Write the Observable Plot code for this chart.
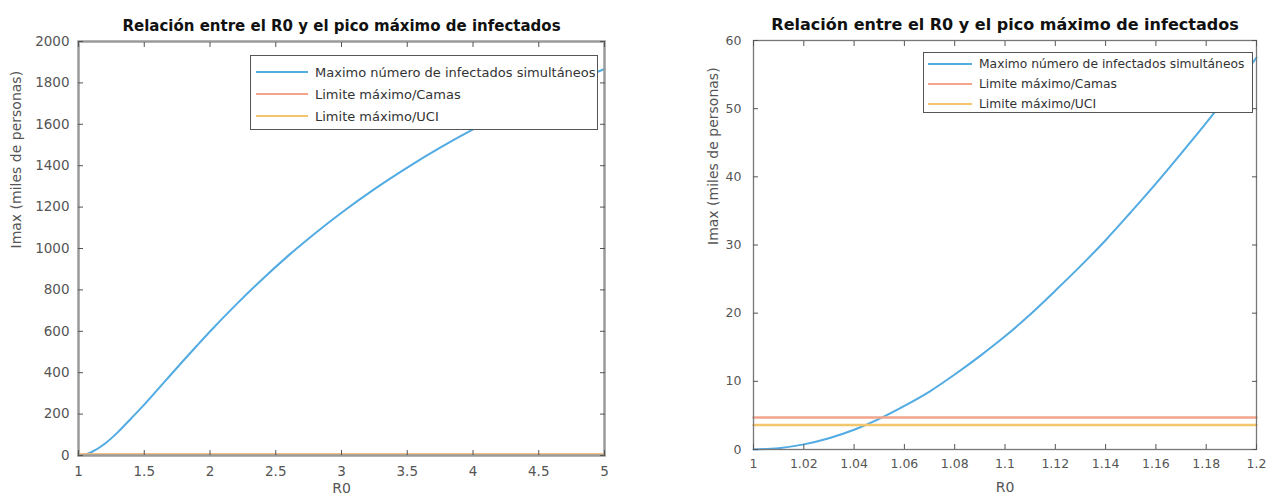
<!DOCTYPE html>
<html><head><meta charset="utf-8">
<script src="https://cdn.jsdelivr.net/npm/d3@7"></script>
<script src="https://cdn.jsdelivr.net/npm/@observablehq/plot@0.6"></script>
<style>
body{margin:0;background:#fff;font-family:"DejaVu Sans",sans-serif;}
#wrap{position:relative;width:1284px;height:503px;overflow:hidden;}
.panel{position:absolute;top:0;}
.legend{position:absolute;box-sizing:border-box;background:#fff;border:1.5px solid #555;color:#333;}
.row{position:absolute;left:0;right:0;display:flex;align-items:center;white-space:nowrap;}
.sw{display:inline-block;height:2px;}
</style></head><body>
<div id="wrap"></div>
<script>
const titleText = "Relación entre el R0 y el pico máximo de infectados";
const xLabel = "R0";
const yLabel = "Imax (miles de personas)";
const seriesNames = ["Maximo número de infectados simultáneos", "Limite máximo/Camas", "Limite máximo/UCI"];
const seriesColors = ["#52abe2", "#f2a48c", "#f3c56c"];

// left panel: wide R0 range
const r0Wide = [1.0, 1.05, 1.1, 1.2, 1.3, 1.4, 1.5, 1.6, 1.7, 1.8, 1.9, 2.0, 2.2, 2.4, 2.6, 2.8, 3.0, 3.25, 3.5, 3.75, 4.0, 4.25, 4.5, 4.75, 5.0];
const imaxWide = [0, 4, 17, 57, 113, 179, 246, 317, 389, 460, 530, 599, 730, 853, 968, 1074, 1173, 1287, 1391, 1487, 1575, 1656, 1732, 1801, 1867];
// right panel: narrow R0 range
const r0Narrow = [1.0, 1.01, 1.02, 1.03, 1.04, 1.05, 1.06, 1.07, 1.08, 1.09, 1.1, 1.11, 1.12, 1.13, 1.14, 1.15, 1.16, 1.17, 1.18, 1.19, 1.2];
const imaxNarrow = [0, 0.2, 0.75, 1.65, 2.9, 4.5, 6.4, 8.5, 11.0, 13.7, 16.6, 19.8, 23.3, 26.9, 30.7, 34.8, 39.0, 43.4, 47.9, 52.6, 57.5];
const limitCamas = 4.7;
const limitUCI = 3.6;

const xTicksWide = [1, 1.5, 2, 2.5, 3, 3.5, 4, 4.5, 5];
const yTicksWide = [0, 200, 400, 600, 800, 1000, 1200, 1400, 1600, 1800, 2000];
const xTicksNarrow = [1, 1.02, 1.04, 1.06, 1.08, 1.1, 1.12, 1.14, 1.16, 1.18, 1.2];
const yTicksNarrow = [0, 10, 20, 30, 40, 50, 60];

const fmt = d => String(+d.toFixed(2));
const empty = () => "";

function panel(cfg) {
  const curve = cfg.r0.map((x, i) => ({x, y: cfg.imax[i]}));
  const xDom = [cfg.xTicks[0], cfg.xTicks[cfg.xTicks.length - 1]];
  const yDom = [cfg.yTicks[0], cfg.yTicks[cfg.yTicks.length - 1]];
  const lim = (v) => xDom.map(x => ({x, y: v}));
  return Plot.plot({
    width: cfg.width, height: 503,
    marginLeft: cfg.ml, marginRight: cfg.mr, marginTop: cfg.mt, marginBottom: cfg.mb,
    x: {domain: xDom}, y: {domain: yDom},
    style: {fontFamily: '"DejaVu Sans", sans-serif', fontSize: cfg.fs + "px", color: "#555", background: "transparent"},
    marks: [
      Plot.lineY(curve, {x: "x", y: "y", stroke: seriesColors[0], strokeWidth: cfg.lw, curve: "monotone-x"}),
      Plot.lineY(lim(limitCamas), {x: "x", y: "y", stroke: seriesColors[1], strokeWidth: cfg.lw + 0.5}),
      Plot.lineY(lim(limitUCI), {x: "x", y: "y", stroke: seriesColors[2], strokeWidth: cfg.lw + 0.5}),
      Plot.frame({stroke: cfg.frameColor, strokeWidth: cfg.fw}),
      Plot.axisX({ticks: cfg.xTicks, tickSize: 0, tickPadding: cfg.xpad, tickFormat: fmt, label: null, anchor: "bottom"}),
      Plot.axisX({ticks: cfg.xTicks, tickSize: -5, tickFormat: empty, label: null, anchor: "bottom", stroke: "#555"}),
      Plot.axisX({ticks: cfg.xTicks, tickSize: -5, tickFormat: empty, label: null, anchor: "top", stroke: "#555"}),
      Plot.axisY({ticks: cfg.yTicks, tickSize: 0, tickPadding: cfg.ypad, tickFormat: fmt, label: null, anchor: "left"}),
      Plot.axisY({ticks: cfg.yTicks, tickSize: -5, tickFormat: empty, label: null, anchor: "left", stroke: "#555"}),
      Plot.axisY({ticks: cfg.yTicks, tickSize: -5, tickFormat: empty, label: null, anchor: "right", stroke: "#555"}),
      Plot.text([titleText], {frameAnchor: "top", dy: cfg.titleDy, lineAnchor: "bottom", fontWeight: "bold", fontSize: cfg.tfs, fill: "#111"}),
      Plot.text([xLabel], {frameAnchor: "bottom", dy: cfg.xlabDy, fontSize: cfg.lfs, fill: "#555"}),
      Plot.text([yLabel], {frameAnchor: "left", dx: cfg.ylabDx, rotate: -90, fontSize: cfg.lfs, fill: "#555"})
    ]
  });
}

function legend(box) {
  const lg = document.createElement("div");
  lg.className = "legend";
  Object.assign(lg.style, {left: box.left + "px", top: box.top + "px", width: box.w + "px", height: box.h + "px", fontSize: box.fs + "px"});
  seriesNames.forEach((name, i) => {
    const r = document.createElement("div");
    r.className = "row";
    r.style.top = (box.row0 + i * box.dr - 8) + "px";
    r.style.height = "16px";
    const sw = document.createElement("span");
    sw.className = "sw";
    Object.assign(sw.style, {width: box.sw + "px", marginLeft: box.swl + "px", marginRight: box.gap + "px", background: seriesColors[i], height: "2.5px"});
    const t = document.createElement("span");
    t.textContent = name;
    r.appendChild(sw); r.appendChild(t);
    lg.appendChild(r);
  });
  return lg;
}

const wrap = document.getElementById("wrap");
const p1 = panel({r0: r0Wide, imax: imaxWide, xTicks: xTicksWide, yTicks: yTicksWide, width: 642,
  ml: 78, mr: 38, mt: 41, mb: 48, fs: 13.5, tfs: 15, lfs: 14, lw: 2, fw: 2.5, frameColor: "#9a9a9a",
  xpad: 11, ypad: 9, titleDy: -11, xlabDy: 37, ylabDx: -62});
p1.classList.add("panel"); p1.style.left = "0px";
wrap.appendChild(p1);
const p2 = panel({r0: r0Narrow, imax: imaxNarrow, xTicks: xTicksNarrow, yTicks: yTicksNarrow, width: 642,
  ml: 111, mr: 28, mt: 40, mb: 54, fs: 12.5, tfs: 16, lfs: 14, lw: 2, fw: 1.3, frameColor: "#777",
  xpad: 10, ypad: 12, titleDy: -11, xlabDy: 42, ylabDx: -40});
p2.classList.add("panel"); p2.style.left = "642px";
wrap.appendChild(p2);

wrap.appendChild(legend({left: 250, top: 55, w: 348, h: 75, fs: 13, row0: 16, dr: 22, sw: 52, swl: 5, gap: 7}));
wrap.appendChild(legend({left: 923, top: 52, w: 330, h: 61, fs: 12.3, row0: 11, dr: 20, sw: 44, swl: 4, gap: 7}));
</script>
</body></html>
